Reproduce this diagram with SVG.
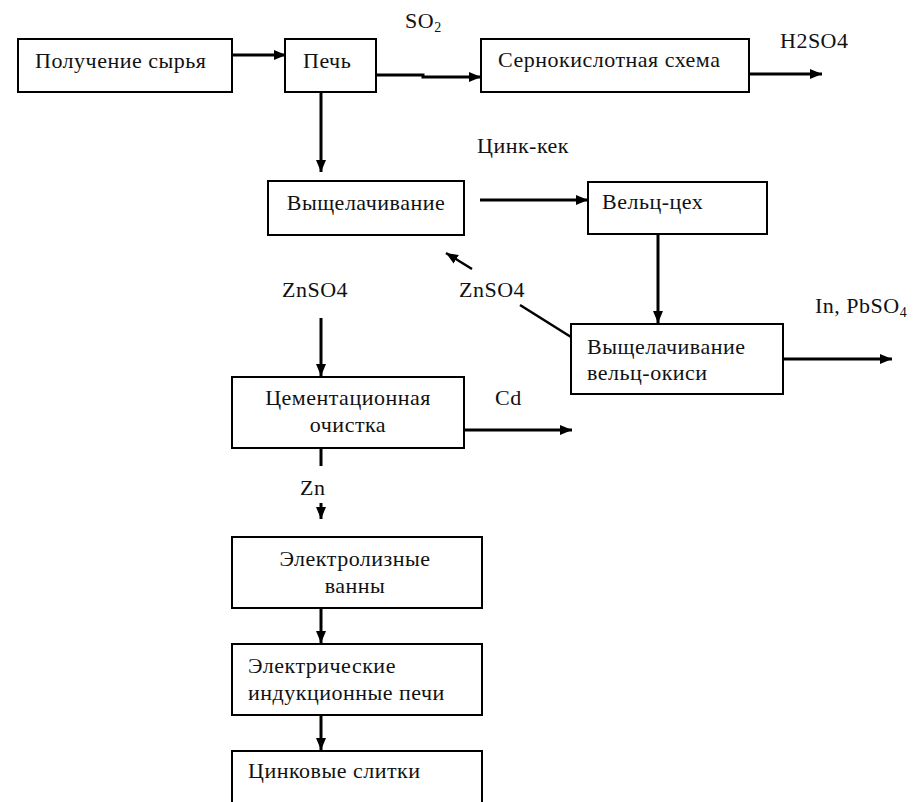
<svg xmlns="http://www.w3.org/2000/svg" width="913" height="802" viewBox="0 0 913 802" font-family="Liberation Serif, Times New Roman, serif">
<defs>
<marker id="ah" markerUnits="userSpaceOnUse" markerWidth="12" markerHeight="12" viewBox="0 0 12 12" refX="12" refY="6" orient="auto">
<path d="M0,1 L12,6 L0,11 Z" fill="#000"/>
</marker>
<style>
.box{fill:#fff;stroke:#000;stroke-width:2}
.t{font-family:'Liberation Serif','Times New Roman',serif;font-size:22px;fill:#111;letter-spacing:0.5px}
.c{text-anchor:middle}
.ln{fill:none;stroke:#000;stroke-width:3}
.arr{fill:none;stroke:#000;stroke-width:3;marker-end:url(#ah)}
</style>
</defs>
<rect width="913" height="802" fill="#fff"/>
<g id="connectors">
<path class="arr" d="M232,55 H286"/>
<path class="arr" d="M376,75 H423 V77 H481"/>
<path class="arr" d="M749,74 H822"/>
<path class="arr" d="M321,92 V172"/>
<path class="arr" d="M480,200 H588"/>
<path class="arr" d="M658,234 V323"/>
<path class="arr" d="M783,359 H892"/>
<path class="ln" d="M571,337 L520,305" style="stroke-width:2.5"/>
<path class="arr" d="M472,269 L446,253" style="stroke-width:2.5"/>
<path class="arr" d="M321,318 V376"/>
<path class="arr" d="M464,430 H572"/>
<path class="ln" d="M321,448 V466"/>
<path class="arr" d="M321,503 V519"/>
<path class="arr" d="M321,608 V643"/>
<path class="arr" d="M321,715 V750"/>
</g>
<g id="labels">
<text class="t" x="405" y="28">SO<tspan font-size="14" dy="4">2</tspan></text>
<text class="t" x="780" y="48">H2SO4</text>
<text class="t" x="477" y="153">Цинк-кек</text>
<text class="t" x="282" y="297">ZnSO4</text>
<text class="t" x="459" y="297">ZnSO4</text>
<text class="t" x="815" y="313">In, PbSO<tspan font-size="14" dy="4">4</tspan></text>
<text class="t" x="495" y="405">Cd</text>
<text class="t" x="300" y="495">Zn</text>
</g>
<g id="n1"><rect class="box" x="18" y="39" width="214" height="53"/><text class="t" x="35" y="68">Получение сырья</text></g>
<g id="n2"><rect class="box" x="285" y="39" width="91" height="53"/><text class="t" x="303" y="68">Печь</text></g>
<g id="n3"><rect class="box" x="481" y="39" width="268" height="53"/><text class="t" x="498" y="67">Сернокислотная схема</text></g>
<g id="n4"><rect class="box" x="268" y="181" width="196" height="54"/><text class="t c" x="366" y="210">Выщелачивание</text></g>
<g id="n5"><rect class="box" x="588" y="182" width="179" height="52"/><text class="t" x="602" y="209">Вельц-цех</text></g>
<g id="n6"><rect class="box" x="571" y="324" width="212" height="70"/><text class="t" x="587" y="354">Выщелачивание</text><text class="t" x="587" y="380">вельц-окиси</text></g>
<g id="n7"><rect class="box" x="232" y="377" width="232" height="71"/><text class="t c" x="348" y="405">Цементационная</text><text class="t c" x="348" y="432">очистка</text></g>
<g id="n8"><rect class="box" x="232" y="537" width="250" height="71"/><text class="t c" x="355" y="566">Электролизные</text><text class="t c" x="355" y="593">ванны</text></g>
<g id="n9"><rect class="box" x="232" y="644" width="250" height="71"/><text class="t" x="248" y="673">Электрические</text><text class="t" x="248" y="700">индукционные печи</text></g>
<g id="n10"><rect class="box" x="232" y="751" width="250" height="60"/><text class="t" x="248" y="778">Цинковые слитки</text></g>
</svg>
